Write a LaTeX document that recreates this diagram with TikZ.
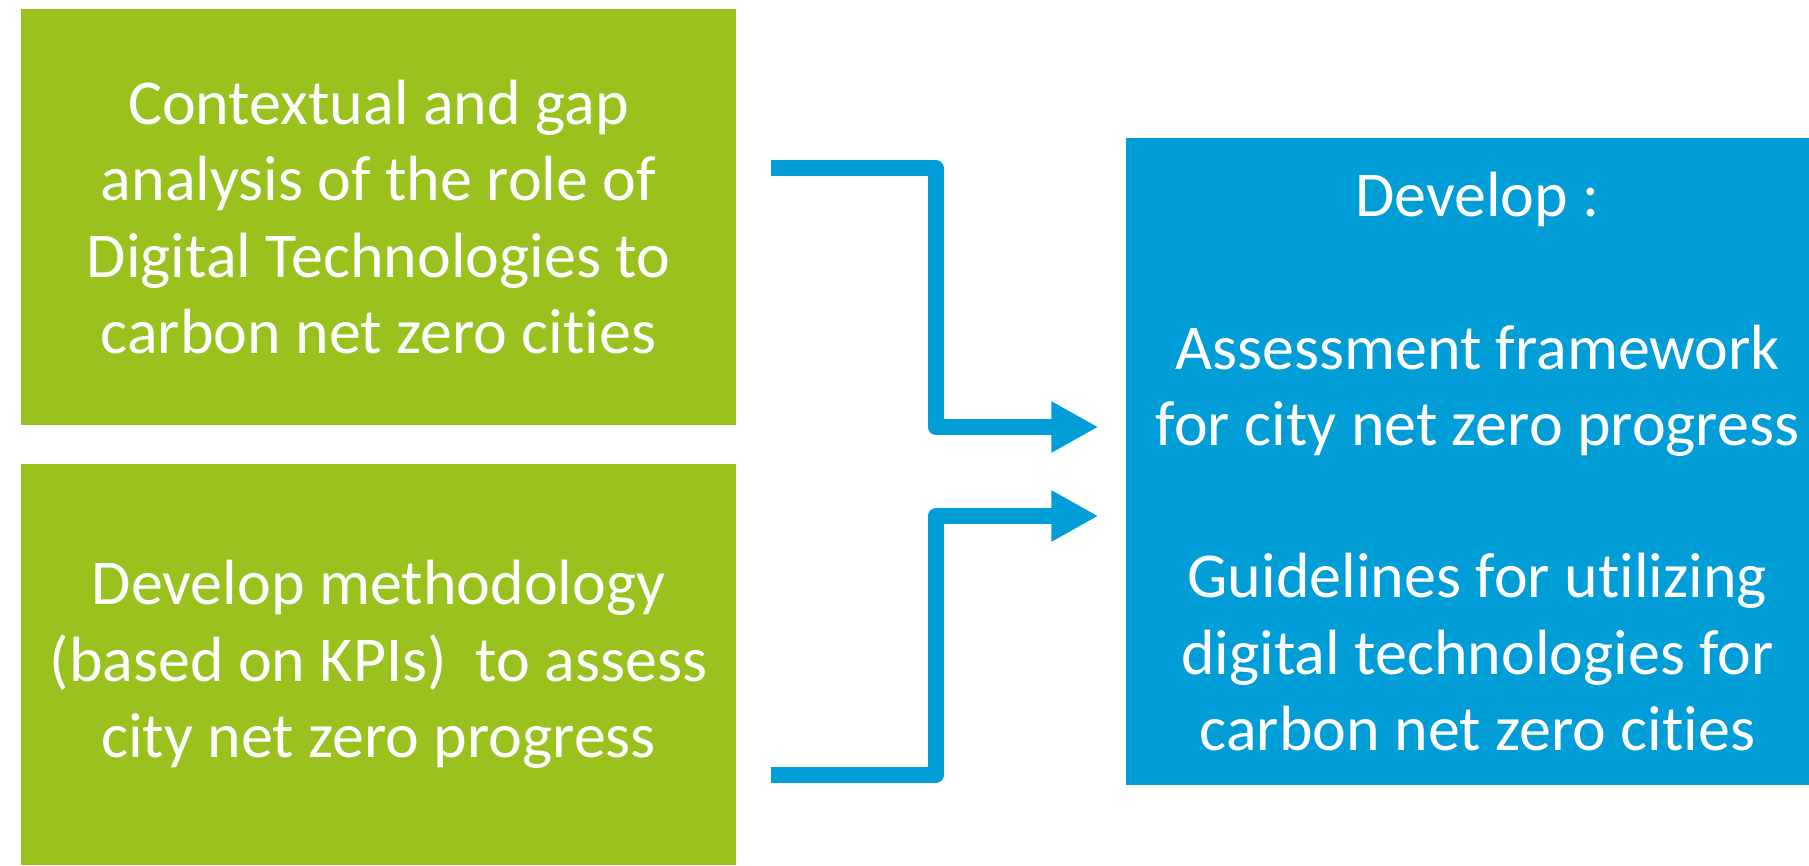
\documentclass[tikz,border=0pt]{standalone}
\usepackage{fontspec}
\setmainfont{Carlito}[Ligatures=NoCommon]
\usetikzlibrary{calc,arrows.meta}

\definecolor{leafgreen}{HTML}{9AC21E}
\definecolor{skyblue}{HTML}{009DD6}

\tikzset{
  box/.style={fill=#1, text=white, align=center, inner sep=0pt,
    font=\fontsize{18.2}{21.7}\selectfont},
  flow/.style={draw=skyblue, line width=4.46pt, line join=round,
    -{Triangle[length=0.47cm,width=0.48cm]}},
}

\begin{document}
\begin{tikzpicture}
  \useasboundingbox (0,0) rectangle (18.09,8.65);

  % two input blocks on the left
  \node[box=leafgreen, minimum width=7.15cm, minimum height=4.16cm] (ctx) at (3.785,6.48)
    {Contextual and gap\\analysis of the role of\\Digital Technologies to\\carbon net zero cities};
  \node[box=leafgreen, minimum width=7.15cm, minimum height=4.01cm] (kpi) at (3.785,2.005)
    {Develop methodology\\(based on KPIs)\ \ to assess\\city net zero progress};

  % output block, runs off the right edge
  \node[box=skyblue, minimum width=7.03cm, minimum height=6.47cm] (out) at (14.775,4.035)
    {Develop :\\[21.7pt]Assessment framework\\for city net zero progress\\[21.7pt]Guidelines for utilizing\\digital technologies for\\carbon net zero cities};

  % elbow arrows
  \coordinate (s1) at ([shift={(0.34,0.49)}]ctx.east);
  \coordinate (e1) at ([shift={(-0.27,0.345)}]out.west);
  \coordinate (s2) at ([shift={(0.34,-1.105)}]kpi.east);
  \coordinate (e2) at ([shift={(-0.27,-0.545)}]out.west);
  \draw[flow] (s1) -- ++(1.65,0) |- (e1);
  \draw[flow] (s2) -- ++(1.65,0) |- (e2);
\end{tikzpicture}
\end{document}
